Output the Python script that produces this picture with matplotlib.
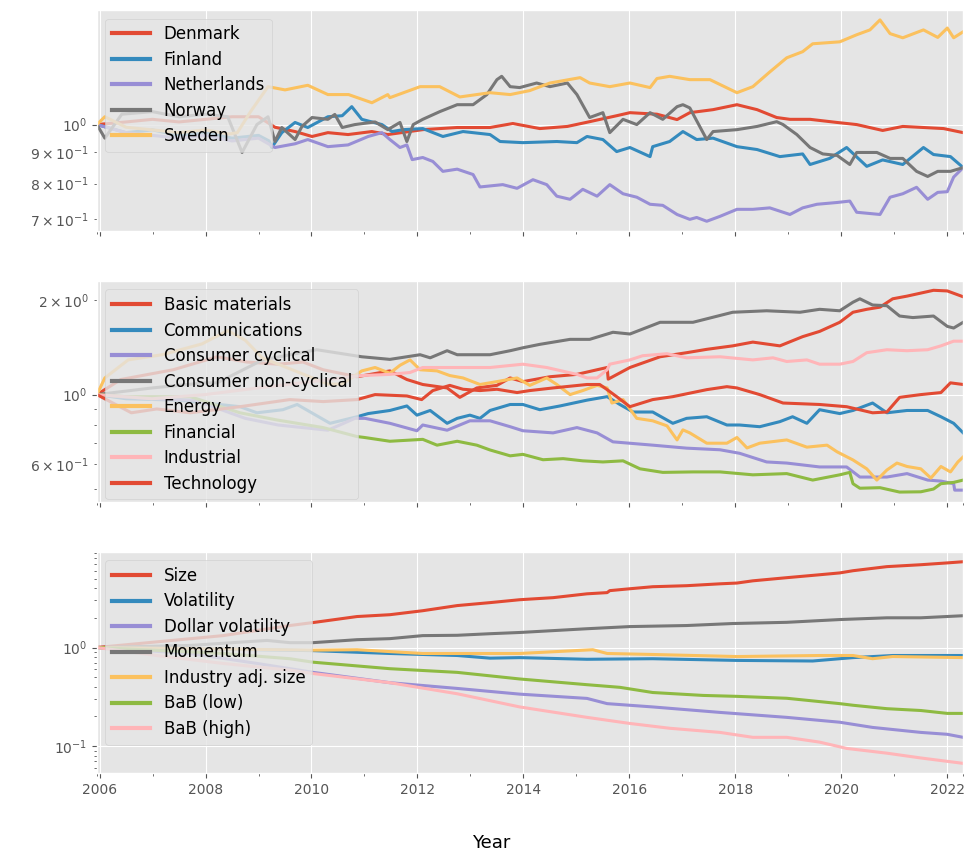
"""
Kumulierte Renditen: Länder, Sektoren und Faktoren (log-Skala)
"""
import matplotlib
matplotlib.use("Agg")
import matplotlib.pyplot as plt
from matplotlib.ticker import MultipleLocator, FixedLocator

# ── Zeitachse (Dezimaljahre) ──
T_START, T_END = 2005.95, 2022.30

# ══════════════════════════════════════════════════════════════
#  Länder
# ══════════════════════════════════════════════════════════════
denmark_t = [2005.95, 2006.5, 2007.0, 2007.5, 2008.0, 2008.5, 2009.0, 2009.31, 2009.69, 2010.01,
             2010.31, 2010.69, 2011.14, 2011.44, 2012.1, 2012.75, 2013.37, 2013.8, 2014.31, 2014.83,
             2015.25, 2015.76, 2016.01, 2016.52, 2016.9, 2017.14, 2017.58, 2018.03, 2018.41, 2018.78,
             2019.03, 2019.41, 2019.92, 2020.29, 2020.78, 2021.16, 2021.55, 2021.93, 2022.3]
denmark_v = [1.0, 1.01, 1.02, 1.01, 1.02, 1.03, 1.03, 0.99, 0.974, 0.956,
             0.97, 0.963, 0.974, 0.963, 0.981, 0.989, 0.989, 1.004, 0.985, 0.993,
             1.011, 1.034, 1.046, 1.04, 1.019, 1.046, 1.058, 1.078, 1.058, 1.027,
             1.02, 1.02, 1.008, 1.0, 0.978, 0.993, 0.989, 0.985, 0.97]

finland_t = [2005.95, 2006.5, 2007.0, 2007.5, 2008.0, 2008.5, 2009.0, 2009.2, 2009.25, 2009.44,
             2009.69, 2009.93, 2010.31, 2010.58, 2010.76, 2010.95, 2011.33, 2011.52, 2011.73, 2012.1,
             2012.48, 2012.86, 2013.37, 2013.56, 2013.99, 2014.63, 2015.01, 2015.2, 2015.5, 2015.76,
             2016.01, 2016.39, 2016.44, 2016.76, 2017.01, 2017.27, 2017.58, 2018.03, 2018.41, 2018.84,
             2019.27, 2019.41, 2019.78, 2020.1, 2020.48, 2020.78, 2021.16, 2021.55, 2021.74, 2022.06,
             2022.3]
finland_v = [1.0, 0.97, 0.98, 0.96, 0.97, 0.95, 0.96, 0.94, 0.917, 0.97,
             1.008, 0.989, 1.03, 1.034, 1.07, 1.02, 1.0, 0.974, 0.981, 0.985,
             0.956, 0.974, 0.963, 0.938, 0.934, 0.938, 0.934, 0.956, 0.945, 0.903,
             0.917, 0.886, 0.92, 0.938, 0.974, 0.945, 0.95, 0.92, 0.91, 0.886,
             0.895, 0.86, 0.88, 0.917, 0.854, 0.875, 0.86, 0.917, 0.893, 0.886,
             0.85]

netherlands_t = [2005.95, 2006.5, 2007.0, 2007.5, 2008.0, 2008.5, 2009.0, 2009.31, 2009.69, 2009.93,
                 2010.31, 2010.69, 2011.07, 2011.33, 2011.48, 2011.67, 2011.8, 2011.9, 2012.1, 2012.29,
                 2012.48, 2012.75, 2013.05, 2013.18, 2013.61, 2013.88, 2014.18, 2014.44, 2014.63, 2014.88,
                 2015.12, 2015.39, 2015.63, 2015.88, 2016.14, 2016.39, 2016.63, 2016.9, 2017.14, 2017.27,
                 2017.46, 2017.71, 2018.03, 2018.33, 2018.65, 2019.03, 2019.27, 2019.54, 2019.92, 2020.16,
                 2020.29, 2020.73, 2020.92, 2021.16, 2021.42, 2021.63, 2021.82, 2022.0, 2022.12, 2022.3]
netherlands_v = [1.0, 0.97, 0.96, 0.95, 0.96, 0.94, 0.95, 0.917, 0.93, 0.945,
                 0.92, 0.926, 0.956, 0.97, 0.945, 0.917, 0.926, 0.876, 0.883, 0.87,
                 0.838, 0.845, 0.828, 0.79, 0.797, 0.786, 0.812, 0.797, 0.763, 0.754,
                 0.783, 0.763, 0.797, 0.77, 0.76, 0.74, 0.737, 0.712, 0.699, 0.704,
                 0.694, 0.707, 0.726, 0.726, 0.73, 0.712, 0.73, 0.74, 0.745, 0.749,
                 0.718, 0.712, 0.76, 0.77, 0.789, 0.754, 0.774, 0.776, 0.82, 0.85]

norway_t = [2005.95, 2006.1, 2006.42, 2007.0, 2007.5, 2008.0, 2008.42, 2008.69, 2008.97, 2009.18,
            2009.31, 2009.44, 2009.69, 2009.82, 2010.01, 2010.31, 2010.44, 2010.58, 2010.82, 2011.2,
            2011.44, 2011.67, 2011.8, 2011.92, 2012.1, 2012.42, 2012.75, 2013.05, 2013.31, 2013.5,
            2013.59, 2013.75, 2013.93, 2014.25, 2014.5, 2014.83, 2015.01, 2015.25, 2015.5, 2015.63,
            2015.88, 2016.14, 2016.39, 2016.63, 2016.9, 2017.01, 2017.14, 2017.46, 2017.58, 2018.03,
            2018.41, 2018.78, 2018.9, 2019.16, 2019.41, 2019.65, 2019.92, 2020.16, 2020.29, 2020.67,
            2020.92, 2021.16, 2021.42, 2021.63, 2021.82, 2022.06, 2022.3]
norway_v = [1.0, 0.95, 1.04, 1.05, 1.03, 1.04, 1.03, 0.9, 1.0, 1.03,
            0.938, 0.989, 0.945, 0.993, 1.027, 1.02, 1.039, 0.989, 1.0, 1.01,
            0.981, 1.008, 0.938, 1.0, 1.02, 1.05, 1.078, 1.078, 1.12, 1.185,
            1.2, 1.154, 1.15, 1.17, 1.154, 1.17, 1.12, 1.027, 1.046, 0.97,
            1.02, 1.0, 1.046, 1.02, 1.07, 1.078, 1.065, 0.945, 0.974, 0.981,
            0.993, 1.011, 1.0, 0.963, 0.917, 0.895, 0.89, 0.86, 0.9, 0.9,
            0.88, 0.88, 0.838, 0.822, 0.838, 0.838, 0.85]

sweden_t = [2005.95, 2006.1, 2006.5, 2007.0, 2007.5, 2008.0, 2008.45, 2008.6, 2008.85, 2009.18,
            2009.5, 2009.93, 2010.31, 2010.7, 2011.14, 2011.44, 2011.48, 2012.05, 2012.42, 2012.8,
            2013.37, 2013.75, 2014.12, 2014.5, 2015.07, 2015.25, 2015.63, 2016.01, 2016.39, 2016.52,
            2016.76, 2017.14, 2017.52, 2018.03, 2018.33, 2018.65, 2018.97, 2019.27, 2019.46, 2019.97,
            2020.29, 2020.54, 2020.73, 2020.92, 2021.16, 2021.55, 2021.82, 2022.0, 2022.12, 2022.3]
sweden_v = [1.0, 1.03, 0.99, 0.98, 0.97, 0.98, 0.965, 0.97, 1.05, 1.154,
            1.14, 1.16, 1.12, 1.12, 1.086, 1.12, 1.107, 1.154, 1.154, 1.11,
            1.128, 1.12, 1.137, 1.17, 1.194, 1.17, 1.154, 1.17, 1.15, 1.19,
            1.2, 1.185, 1.185, 1.128, 1.154, 1.22, 1.287, 1.317, 1.357, 1.367,
            1.404, 1.43, 1.485, 1.41, 1.388, 1.43, 1.39, 1.44, 1.388, 1.42]

# ══════════════════════════════════════════════════════════════
#  Sektoren
# ══════════════════════════════════════════════════════════════
basic_t = [2005.95, 2006.4, 2007.39, 2008.22, 2008.78, 2009.37, 2009.84, 2010.22, 2010.86, 2011.48,
           2011.8, 2012.1, 2012.56, 2012.8, 2013.12, 2013.5, 2013.75, 2013.99, 2014.5, 2015.01,
           2015.39, 2015.58, 2015.6, 2016.01, 2016.58, 2017.08, 2017.46, 2017.95, 2018.33, 2018.84,
           2019.27, 2019.59, 2019.97, 2020.22, 2020.48, 2020.73, 2020.97, 2021.24, 2021.74, 2022.0,
           2022.3]
basic_v = [1.0, 1.117, 1.2, 1.32, 1.27, 1.25, 1.27, 1.2, 1.14, 1.19,
           1.117, 1.077, 1.05, 0.98, 1.05, 1.07, 1.13, 1.1, 1.14, 1.16,
           1.2, 1.22, 1.12, 1.22, 1.32, 1.36, 1.394, 1.43, 1.47, 1.43,
           1.53, 1.59, 1.70, 1.83, 1.87, 1.90, 2.02, 2.06, 2.15, 2.14,
           2.05]

comm_t = [2005.95, 2006.5, 2007.5, 2008.65, 2008.97, 2009.46, 2009.73, 2010.35, 2010.86, 2011.07,
          2011.48, 2011.8, 2011.99, 2012.24, 2012.56, 2012.75, 2012.99, 2013.18, 2013.37, 2013.75,
          2013.99, 2014.31, 2014.69, 2015.2, 2015.58, 2015.82, 2016.07, 2016.44, 2016.82, 2017.08,
          2017.46, 2017.84, 2018.08, 2018.46, 2018.84, 2019.08, 2019.35, 2019.59, 2019.97, 2020.22,
          2020.59, 2020.86, 2021.24, 2021.63, 2021.88, 2022.12, 2022.3]
comm_v = [1.0, 0.97, 0.96, 0.915, 0.875, 0.895, 0.93, 0.81, 0.85, 0.87,
          0.89, 0.92, 0.86, 0.89, 0.81, 0.84, 0.86, 0.84, 0.89, 0.93,
          0.93, 0.895, 0.92, 0.96, 0.985, 0.93, 0.88, 0.88, 0.81, 0.84,
          0.85, 0.80, 0.80, 0.79, 0.82, 0.85, 0.81, 0.895, 0.87, 0.89,
          0.94, 0.875, 0.89, 0.89, 0.85, 0.81, 0.755]

cyclical_t = [2005.95, 2006.5, 2007.0, 2007.8, 2008.75, 2009.37, 2010.31, 2010.82, 2011.01, 2011.48,
              2011.99, 2012.1, 2012.56, 2012.99, 2013.37, 2013.75, 2013.99, 2014.56, 2015.01, 2015.39,
              2015.69, 2016.44, 2017.08, 2017.71, 2018.08, 2018.59, 2018.97, 2019.59, 2020.1, 2020.35,
              2020.86, 2021.24, 2021.63, 2021.88, 2022.12, 2022.14, 2022.3]
cyclical_v = [1.0, 0.98, 0.97, 0.96, 0.84, 0.80, 0.77, 0.84, 0.84, 0.81,
              0.767, 0.80, 0.77, 0.825, 0.825, 0.79, 0.767, 0.755, 0.785, 0.755,
              0.707, 0.69, 0.675, 0.667, 0.65, 0.61, 0.605, 0.588, 0.588, 0.546,
              0.546, 0.56, 0.534, 0.53, 0.52, 0.496, 0.496]

noncyc_t = [2005.95, 2006.99, 2007.99, 2008.22, 2009.08, 2010.1, 2010.95, 2011.48, 2012.05, 2012.24,
            2012.56, 2012.75, 2013.37, 2013.75, 2013.99, 2014.31, 2014.88, 2015.25, 2015.69, 2016.01,
            2016.58, 2017.2, 2017.95, 2018.59, 2019.22, 2019.59, 2019.97, 2020.22, 2020.35, 2020.59,
            2020.86, 2021.1, 2021.35, 2021.74, 2022.0, 2022.12, 2022.3]
noncyc_v = [1.0, 1.05, 1.09, 1.09, 1.29, 1.39, 1.32, 1.295, 1.34, 1.31,
            1.38, 1.34, 1.34, 1.38, 1.41, 1.446, 1.50, 1.50, 1.58, 1.56,
            1.70, 1.70, 1.83, 1.85, 1.83, 1.87, 1.85, 1.97, 2.02, 1.93,
            1.92, 1.78, 1.76, 1.78, 1.65, 1.63, 1.70]

energy_t = [2005.95, 2006.1, 2006.54, 2007.18, 2007.93, 2008.42, 2008.75, 2009.07, 2009.69, 2010.31,
            2010.58, 2010.95, 2011.2, 2011.48, 2011.67, 2011.86, 2012.05, 2012.37, 2012.61, 2012.86,
            2013.18, 2013.5, 2013.88, 2014.12, 2014.44, 2014.63, 2014.88, 2015.12, 2015.39, 2015.58,
            2015.67, 2015.88, 2016.14, 2016.44, 2016.71, 2016.9, 2017.01, 2017.14, 2017.46, 2017.84,
            2018.03, 2018.22, 2018.46, 2018.97, 2019.35, 2019.73, 2019.92, 2020.22, 2020.48, 2020.67,
            2020.86, 2021.05, 2021.24, 2021.5, 2021.69, 2021.88, 2022.06, 2022.2, 2022.3]
energy_v = [1.0, 1.13, 1.29, 1.34, 1.45, 1.60, 1.49, 1.31, 1.19, 1.08,
            1.08, 1.19, 1.22, 1.17, 1.24, 1.29, 1.2, 1.19, 1.15, 1.13,
            1.077, 1.1, 1.13, 1.07, 1.13, 1.077, 1.0, 1.03, 1.07, 1.05,
            0.94, 0.964, 0.84, 0.825, 0.795, 0.717, 0.772, 0.755, 0.70, 0.70,
            0.73, 0.676, 0.70, 0.717, 0.68, 0.69, 0.657, 0.619, 0.58, 0.534,
            0.575, 0.605, 0.59, 0.58, 0.542, 0.59, 0.567, 0.61, 0.633]

financial_t = [2005.95, 2006.5, 2007.71, 2008.65, 2009.35, 2010.22, 2010.86, 2011.0, 2011.48, 2012.1,
               2012.37, 2012.75, 2013.12, 2013.37, 2013.75, 2013.99, 2014.37, 2014.75, 2015.12, 2015.5,
               2015.88, 2016.2, 2016.63, 2017.2, 2017.71, 2018.33, 2018.97, 2019.46, 2019.97, 2020.16,
               2020.22, 2020.35, 2020.73, 2021.1, 2021.5, 2021.74, 2021.88, 2022.12, 2022.3]
financial_v = [1.0, 0.985, 0.985, 0.875, 0.83, 0.785, 0.735, 0.73, 0.71, 0.72,
               0.69, 0.71, 0.69, 0.666, 0.638, 0.645, 0.62, 0.625, 0.615, 0.61,
               0.615, 0.58, 0.565, 0.567, 0.567, 0.555, 0.56, 0.534, 0.555, 0.565,
               0.52, 0.503, 0.505, 0.489, 0.49, 0.5, 0.52, 0.525, 0.534]

industrial_t = [2005.95, 2006.99, 2007.99, 2008.99, 2010.01, 2010.95, 2011.48, 2011.86, 2012.1, 2012.75,
                2013.37, 2013.99, 2014.44, 2015.01, 2015.2, 2015.39, 2015.58, 2015.63, 2016.01, 2016.25,
                2016.71, 2017.08, 2017.71, 2018.33, 2018.71, 2018.97, 2019.35, 2019.59, 2019.97, 2020.22,
                2020.48, 2020.86, 2021.24, 2021.63, 2021.88, 2022.12, 2022.3]
industrial_v = [1.0, 0.97, 1.0, 1.05, 1.1, 1.15, 1.16, 1.176, 1.22, 1.22,
                1.22, 1.25, 1.22, 1.16, 1.13, 1.13, 1.2, 1.25, 1.29, 1.33,
                1.35, 1.31, 1.32, 1.29, 1.31, 1.275, 1.29, 1.25, 1.25, 1.275,
                1.36, 1.39, 1.38, 1.39, 1.43, 1.48, 1.48]

tech_t = [2005.95, 2006.6, 2007.08, 2007.71, 2008.65, 2009.59, 2010.22, 2010.86, 2011.2, 2011.8,
          2012.08, 2012.29, 2012.61, 2012.86, 2013.18, 2013.5, 2013.88, 2014.12, 2014.56, 2015.2,
          2015.44, 2015.58, 2015.76, 2016.01, 2016.44, 2016.82, 2017.46, 2017.84, 2018.03, 2018.46,
          2018.9, 2019.59, 2020.1, 2020.59, 2020.86, 2021.1, 2021.5, 2021.88, 2022.06, 2022.3]
tech_v = [1.0, 0.875, 0.9, 0.875, 0.915, 0.964, 0.95, 0.964, 1.0, 0.99,
          0.964, 1.03, 1.07, 1.04, 1.03, 1.04, 1.015, 1.03, 1.05, 1.077,
          1.077, 1.037, 0.985, 0.915, 0.964, 0.985, 1.037, 1.06, 1.05, 1.0,
          0.94, 0.93, 0.915, 0.875, 0.88, 0.98, 1.0, 1.015, 1.09, 1.077]

# ══════════════════════════════════════════════════════════════
#  Faktoren
# ══════════════════════════════════════════════════════════════
size_t = [2005.95, 2008.33, 2009.59, 2010.03, 2010.86, 2011.48, 2012.1, 2012.75, 2013.37, 2013.93,
          2014.56, 2015.2, 2015.58, 2015.63, 2016.01, 2016.44, 2017.08, 2017.71, 2018.03, 2018.33,
          2018.97, 2019.59, 2019.97, 2020.22, 2020.86, 2021.5, 2022.0, 2022.3]
size_v = [1.0, 1.32, 1.67, 1.79, 2.06, 2.15, 2.36, 2.66, 2.85, 3.05,
          3.2, 3.5, 3.6, 3.77, 3.94, 4.13, 4.23, 4.42, 4.5, 4.74,
          5.1, 5.46, 5.7, 6.0, 6.6, 6.9, 7.2, 7.4]

vol_t = [2005.95, 2008.0, 2010.03, 2011.48, 2012.75, 2013.37, 2013.93, 2015.2, 2016.44, 2018.03,
         2019.46, 2019.97, 2020.22, 2020.97, 2022.3]
vol_v = [1.0, 0.97, 0.93, 0.87, 0.83, 0.78, 0.79, 0.76, 0.77, 0.74,
         0.73, 0.77, 0.79, 0.83, 0.83]

dollar_vol_t = [2005.95, 2007.71, 2008.97, 2010.03, 2011.48, 2012.75, 2013.93, 2015.2, 2015.58, 2016.44,
                2017.71, 2018.97, 2019.97, 2020.59, 2021.5, 2022.0, 2022.3]
dollar_vol_v = [1.0, 0.87, 0.69, 0.56, 0.44, 0.385, 0.337, 0.305, 0.27, 0.25,
                0.22, 0.196, 0.175, 0.155, 0.138, 0.132, 0.123]

momentum_t = [2005.95, 2007.71, 2009.16, 2009.59, 2010.03, 2010.86, 2011.48, 2012.1, 2012.75, 2013.37,
              2013.93, 2015.2, 2016.01, 2017.08, 2017.95, 2018.97, 2019.97, 2020.86, 2021.5, 2022.3]
momentum_v = [1.0, 1.05, 1.18, 1.12, 1.12, 1.2, 1.23, 1.32, 1.33, 1.38,
              1.42, 1.55, 1.63, 1.67, 1.75, 1.8, 1.92, 2.0, 2.0, 2.1]

ind_size_t = [2005.95, 2008.0, 2010.03, 2010.86, 2012.1, 2013.93, 2015.31, 2015.58, 2016.44, 2018.03,
              2019.59, 2020.22, 2020.59, 2020.97, 2022.3]
ind_size_v = [1.0, 0.97, 0.94, 0.95, 0.87, 0.87, 0.95, 0.87, 0.85, 0.81,
              0.83, 0.83, 0.77, 0.81, 0.79]

bab_low_t = [2005.95, 2008.33, 2009.59, 2010.03, 2011.48, 2012.75, 2013.93, 2015.2, 2015.82, 2016.44,
             2017.39, 2018.03, 2018.97, 2019.97, 2020.22, 2020.86, 2021.5, 2022.0, 2022.3]
bab_low_v = [1.0, 0.87, 0.77, 0.71, 0.61, 0.56, 0.48, 0.42, 0.395, 0.35,
             0.327, 0.32, 0.306, 0.27, 0.26, 0.24, 0.23, 0.215, 0.215]

bab_high_t = [2005.95, 2007.08, 2008.33, 2009.59, 2010.03, 2011.48, 2012.75, 2013.93, 2015.2, 2016.01,
              2016.76, 2017.71, 2018.33, 2018.97, 2019.59, 2020.1, 2020.86, 2021.5, 2022.3]
bab_high_v = [1.0, 0.83, 0.69, 0.59, 0.545, 0.44, 0.34, 0.25, 0.196, 0.17,
              0.152, 0.138, 0.123, 0.123, 0.11, 0.095, 0.085, 0.076, 0.067]

# ── Panels: (Label, Zeit, Werte) ──
PANELS = [
    {
        "series": [
            ("Denmark", denmark_t, denmark_v),
            ("Finland", finland_t, finland_v),
            ("Netherlands", netherlands_t, netherlands_v),
            ("Norway", norway_t, norway_v),
            ("Sweden", sweden_t, sweden_v),
        ],
        "ylim": (0.668, 1.54),
    },
    {
        "series": [
            ("Basic materials", basic_t, basic_v),
            ("Communications", comm_t, comm_v),
            ("Consumer cyclical", cyclical_t, cyclical_v),
            ("Consumer non-cyclical", noncyc_t, noncyc_v),
            ("Energy", energy_t, energy_v),
            ("Financial", financial_t, financial_v),
            ("Industrial", industrial_t, industrial_v),
            ("Technology", tech_t, tech_v),
        ],
        "ylim": (0.454, 2.30),
    },
    {
        "series": [
            ("Size", size_t, size_v),
            ("Volatility", vol_t, vol_v),
            ("Dollar volatility", dollar_vol_t, dollar_vol_v),
            ("Momentum", momentum_t, momentum_v),
            ("Industry adj. size", ind_size_t, ind_size_v),
            ("BaB (low)", bab_low_t, bab_low_v),
            ("BaB (high)", bab_high_t, bab_high_v),
        ],
        "ylim": (0.0535, 9.3),
    },
]


def plot_panels(save_path="out.png"):
    plt.style.use("ggplot")

    fig, axes = plt.subplots(3, 1, figsize=(9.69, 8.57), dpi=100, sharex=True)
    fig.subplots_adjust(left=0.100, right=0.994, top=0.988, bottom=0.098, hspace=0.225)

    for ax, panel in zip(axes, PANELS):
        for label, t, v in panel["series"]:
            ax.plot(t, v, linewidth=2.2, label=label)

        ax.set_yscale("log")
        ax.set_ylim(*panel["ylim"])
        leg = ax.legend(loc="upper left", fontsize=12, handlelength=2.3, labelspacing=0.45)
        for line in leg.get_lines():
            line.set_linewidth(3.0)

        ax.tick_params(axis="both", labelsize=10)

    # x-Achse: Jahre
    ax = axes[-1]
    ax.set_xlim(T_START, T_END)
    ax.xaxis.set_major_locator(MultipleLocator(2))
    minor = [T_START] + list(range(2007, 2022, 2)) + [T_END]
    ax.xaxis.set_minor_locator(FixedLocator(minor))
    ax.xaxis.set_major_formatter(plt.FuncFormatter(lambda x, _: f"{x:.0f}"))

    fig.text(0.507, 0.016, "Year", ha="center", va="center", fontsize=13)

    fig.savefig(save_path, dpi=100)


if __name__ == "__main__":
    plot_panels()
